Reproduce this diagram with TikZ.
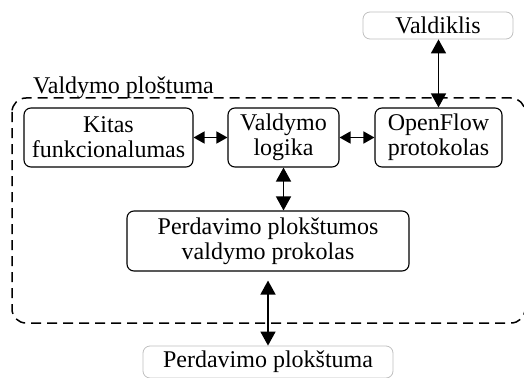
\documentclass[tikz,border=0pt]{standalone}
\usepackage{fontspec}
\setmainfont{Liberation Serif}
\usetikzlibrary{arrows.meta}
\begin{document}
\begin{tikzpicture}[x=1pt,y=1pt,
  box/.style={draw,line width=1.1pt,rounded corners=7pt,align=center,inner sep=0pt,
    font=\fontsize{24}{25}\selectfont},
  lightbox/.style={draw=black!25,line width=0.8pt,rounded corners=7pt,align=center,inner sep=0pt,
    font=\fontsize{24}{25}\selectfont},
  hconn/.style={line width=1.5pt,{Triangle[length=11pt,width=12pt]}-{Triangle[length=11pt,width=12pt]}},
  vconn/.style={line width=1.5pt,{Triangle[length=14pt,width=15pt]}-{Triangle[length=14pt,width=15pt]}}]
\useasboundingbox (0,0) rectangle (524,-377);
\draw[line width=1.5pt,dash pattern=on 10pt off 6pt,rounded corners=14pt] (12,-98) rectangle (525,-323);
\node[anchor=base west,font=\fontsize{24}{25}\selectfont,inner sep=0pt] (lbl) at (33,-94) {Valdymo ploštuma};
\node[box,minimum width=169pt,minimum height=59pt] (kit) at (108.5,-137.5) {Kitas\\funkcionalumas};
\node[box,minimum width=111pt,minimum height=59pt] (vl) at (283.5,-137.5) {Valdymo\\logika};
\node[box,minimum width=127pt,minimum height=59pt] (of) at (438.5,-137.5) {OpenFlow\\protokolas};
\node[lightbox,minimum width=150pt,minimum height=27pt] (vk) at (438,-25.5) {Valdiklis};
\node[box,minimum width=282pt,minimum height=60pt] (pp) at (268,-241) {Perdavimo plokštumos\\valdymo prokolas};
\node[lightbox,minimum width=250pt,minimum height=32pt] (pl) at (268,-362) {Perdavimo plokštuma};
\draw[hconn] (kit.east) -- (vl.west);
\draw[hconn] (vl.east) -- (of.west);
\draw[vconn] (vk.south -| of.north) -- (of.north);
\draw[vconn] (vl.south) -- (vl.south |- pp.north);
\draw[vconn,shorten <=9pt] (pp.south) -- (pl.north);
\end{tikzpicture}
\end{document}
